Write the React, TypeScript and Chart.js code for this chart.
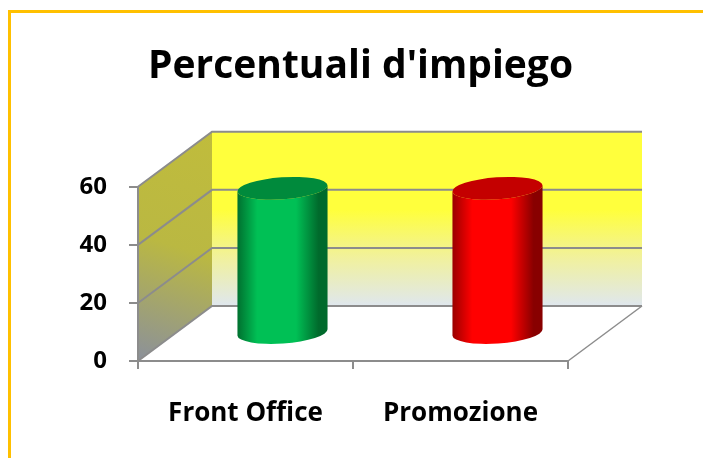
import React, { useEffect, useRef } from "react";
import { Chart, registerables } from "chart.js";

Chart.register(...registerables);

const titleText = "Percentuali d'impiego";
const categories = ["Front Office", "Promozione"];
const values = [50, 50];
const yTicks = [0, 20, 40, 60];

const FONT = "'Open Sans', 'DejaVu Sans', sans-serif";
const GRID = "#8c8c8c";
const DEPTH_X = 74;
const DEPTH_Y = -55;

const cylStyles = [
  { dark1: "#00702f", mid: "#00c055", dark2: "#006a2c", top: "#008a3c" },
  { dark1: "#9a0000", mid: "#ff0000", dark2: "#880000", top: "#c40000" },
];

const walls3d = {
  id: "walls3d",
  beforeDraw(chart: any) {
    const { ctx, chartArea, scales } = chart;
    const y = scales.y;
    const L = chartArea.left;
    const R = chartArea.right;
    const yMin = yTicks[0];
    const yMax = yTicks[yTicks.length - 1];
    const f0 = y.getPixelForValue(yMin);
    const fTop = y.getPixelForValue(yMax);
    const bL = L + DEPTH_X;
    const bR = R + DEPTH_X;
    const b0 = f0 + DEPTH_Y;
    const bTop = fTop + DEPTH_Y;
    ctx.save();
    // orange frame
    ctx.fillStyle = "#ffc000";
    ctx.fillRect(8, 10, 3, chart.height - 10);
    ctx.fillRect(8, 10, chart.width - 8, 3);

    // back wall
    const g = ctx.createLinearGradient(0, bTop, 0, b0);
    g.addColorStop(0, "#ffff3c");
    g.addColorStop(0.45, "#ffff3c");
    g.addColorStop(0.72, "#f1f19c");
    g.addColorStop(1, "#dfe7ee");
    ctx.fillStyle = g;
    ctx.fillRect(bL, bTop, bR - bL, b0 - bTop);

    // side wall
    const sg = ctx.createLinearGradient(bL, bTop, L, f0);
    sg.addColorStop(0, "#c0bc3c");
    sg.addColorStop(0.5, "#bab842");
    sg.addColorStop(1, "#8b909b");
    ctx.fillStyle = sg;
    ctx.beginPath();
    ctx.moveTo(L, fTop);
    ctx.lineTo(bL, bTop);
    ctx.lineTo(bL, b0);
    ctx.lineTo(L, f0);
    ctx.closePath();
    ctx.fill();

    // floor
    ctx.fillStyle = "#ffffff";
    ctx.beginPath();
    ctx.moveTo(L, f0);
    ctx.lineTo(R, f0);
    ctx.lineTo(bR, b0);
    ctx.lineTo(bL, b0);
    ctx.closePath();
    ctx.fill();

    // grid lines
    ctx.strokeStyle = GRID;
    ctx.lineWidth = 2;
    for (const v of yTicks) {
      const fy = y.getPixelForValue(v);
      const by = fy + DEPTH_Y;
      ctx.beginPath();
      ctx.moveTo(L, fy);
      ctx.lineTo(bL, by);
      ctx.lineTo(bR, by);
      ctx.stroke();
    }
    ctx.lineWidth = 1.5;
    ctx.beginPath();
    ctx.moveTo(R, f0);
    ctx.lineTo(bR, b0);
    ctx.stroke();
    ctx.restore();
  },
  afterDatasetsDraw(chart: any) {
    const { ctx } = chart;
    const meta = chart.getDatasetMeta(0);
    meta.data.forEach((bar: any, i: number) => {
      const st = cylStyles[i % cylStyles.length];
      const cx = bar.x + DEPTH_X / 2;
      const rx = bar.width / 2;
      const ry = 11;
      const top = bar.y + DEPTH_Y / 2;
      const base = bar.base + DEPTH_Y / 2;
      const tilt = -0.07;
      ctx.save();
      const g = ctx.createLinearGradient(cx - rx, 0, cx + rx, 0);
      g.addColorStop(0, st.dark1);
      g.addColorStop(0.22, st.mid);
      g.addColorStop(0.65, st.mid);
      g.addColorStop(0.9, st.dark2);
      g.addColorStop(1, st.dark2);
      ctx.fillStyle = g;
      ctx.beginPath();
      ctx.ellipse(cx, base, rx, ry, tilt, 0, Math.PI, false);
      ctx.lineTo(cx - rx * Math.cos(tilt), top - rx * Math.sin(tilt));
      ctx.ellipse(cx, top, rx, ry, tilt, Math.PI, 0, true);
      ctx.closePath();
      ctx.fill();
      ctx.fillStyle = st.top;
      ctx.beginPath();
      ctx.ellipse(cx, top, rx, ry, tilt, 0, Math.PI * 2);
      ctx.fill();
      ctx.restore();
    });
  },
};

export default function App() {
  const ref = useRef<HTMLCanvasElement>(null);
  useEffect(() => {
    if (!ref.current) return;
    const chart = new Chart(ref.current, {
      type: "bar",
      data: {
        labels: categories,
        datasets: [
          {
            data: values,
            backgroundColor: "rgba(0,0,0,0)",
            borderWidth: 0,
            categoryPercentage: 1,
            barPercentage: 0.42,
          },
        ],
      },
      options: {
        animation: false,
        responsive: true,
        maintainAspectRatio: false,
        layout: { padding: { left: 18, right: 0, top: 0, bottom: 0 } },
        plugins: {
          legend: { display: false },
          tooltip: { enabled: false },
          title: {
            display: true,
            text: titleText,
            color: "#000000",
            font: { family: FONT, size: 39, weight: "bold", lineHeight: 1.2 },
            padding: { top: 43, bottom: 97 },
          },
        },
        scales: {
          x: {
            offset: true,
            grid: {
              display: true,
              offset: true,
              drawOnChartArea: false,
              color: GRID,
              lineWidth: 2,
              tickLength: 8,
            },
            border: { display: true, color: GRID, width: 2 },
            ticks: {
              color: "#000000",
              font: { family: FONT, size: 26, weight: "bold" },
              padding: 29,
              maxRotation: 0,
            },
            afterFit: (s: any) => {
              s.height = 97;
            },
          },
          y: {
            min: yTicks[0],
            max: yTicks[yTicks.length - 1],
            grid: {
              display: true,
              drawOnChartArea: false,
              color: GRID,
              lineWidth: 2,
              tickLength: 9,
            },
            border: { display: true, color: GRID, width: 2 },
            ticks: {
              stepSize: 20,
              color: "#000000",
              font: { family: FONT, size: 24, weight: "bold" },
              padding: 22,
            },
            afterFit: (s: any) => {
              s.width = 120;
            },
          },
          yRight: {
            type: "linear",
            position: "right",
            display: true,
            grid: { display: false, drawOnChartArea: false },
            border: { display: false },
            ticks: { display: false },
            afterFit: (s: any) => {
              s.width = 135;
            },
          },
        },
      },
      plugins: [walls3d],
    });
    return () => chart.destroy();
  }, []);
  return (
    <div style={{ position: "fixed", left: 0, top: 0, width: 703, height: 458, background: "#ffffff" }}>
      <canvas ref={ref} />
    </div>
  );
}
